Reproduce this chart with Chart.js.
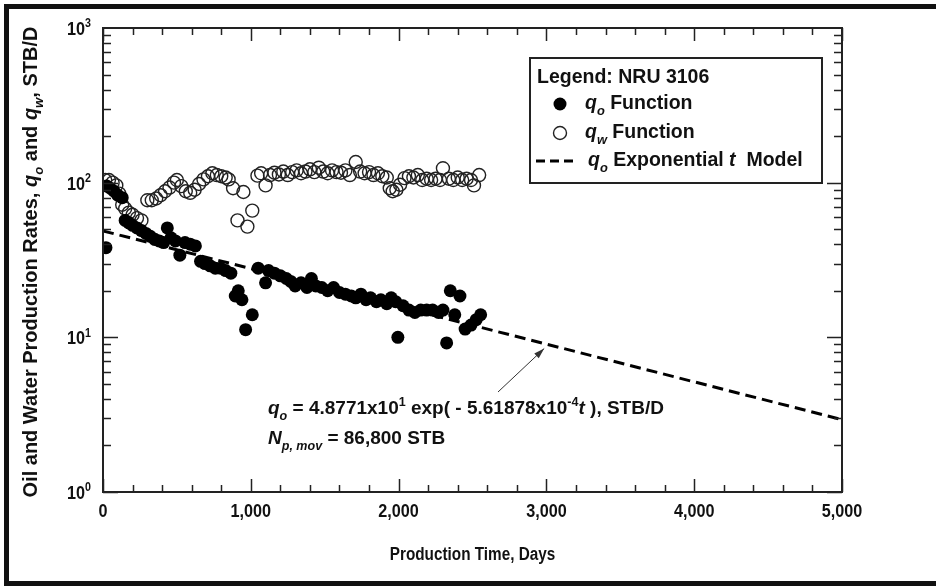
<!DOCTYPE html>
<html>
<head>
<meta charset="utf-8">
<title>NRU 3106 production rates</title>
<style>
  html, body { margin: 0; padding: 0; background: #fff; }
  #wrap { width: 936px; height: 587px; position: relative; }
</style>
<script src="https://cdn.jsdelivr.net/npm/chart.js@4.4.1/dist/chart.umd.min.js"></script>
</head>
<body>
<div id="wrap"><canvas id="rateChart"></canvas></div>
<script>
// Oil rate (qo), STB/D
const qoDays = [20, 25, 50, 75, 100, 130, 150, 175, 200, 230, 260, 290, 320, 350, 380, 410, 435, 460, 490, 520,
  555, 590, 625, 660, 690, 725, 760, 795, 830, 865, 895, 915, 940, 965, 1010, 1050, 1100, 1120, 1160, 1200,
  1240, 1270, 1300, 1340, 1380, 1410, 1440, 1480, 1520, 1560, 1600, 1640, 1680, 1710, 1745, 1780, 1810, 1850,
  1880, 1920, 1950, 1980, 1995, 2030, 2070, 2110, 2150, 2190, 2230, 2270, 2300, 2325, 2350, 2380, 2415, 2450,
  2490, 2525, 2555];
const qoRates = [38, 95, 92, 88, 83, 80, 57, 55, 53, 51, 49, 47, 45, 43, 42, 41, 51, 44, 42, 34,
  41, 40, 39, 31, 30, 29, 28, 28, 27, 26, 18.5, 20, 17.5, 11.2, 14, 28, 22.5, 27, 26, 25,
  24, 23, 21.5, 22.5, 21, 24, 21.5, 21, 20, 21, 19.5, 19, 18.5, 18, 19, 17.5, 18, 17,
  17.5, 16.5, 18, 17, 10, 16, 15, 14.5, 15, 15, 15, 14.5, 15, 9.2, 20, 14, 18.5, 11.3,
  12, 13, 14];

// Water rate (qw), STB/D
const qwDays = [15, 40, 65, 90, 110, 130, 150, 175, 200, 230, 260, 300, 330, 360, 390, 420, 450, 480, 500, 530,
  560, 590, 620, 650, 680, 710, 740, 770, 800, 830, 850, 880, 910, 950, 977, 1010, 1045, 1070, 1100, 1130,
  1160, 1190, 1220, 1250, 1280, 1310, 1340, 1370, 1400, 1430, 1460, 1490, 1520, 1550, 1580, 1610, 1640, 1670,
  1710, 1740, 1770, 1800, 1830, 1860, 1890, 1920, 1940, 1960, 1985, 2010, 2040, 2070, 2100, 2130, 2160, 2190,
  2220, 2250, 2280, 2300, 2340, 2370, 2400, 2430, 2460, 2490, 2510, 2545];
const qwRates = [104, 104, 100, 96, 85, 72, 68, 64, 62, 59, 57, 77, 77, 79, 83, 88, 93, 100, 104, 95,
  88, 86, 90, 98, 105, 110, 115, 112, 110, 108, 105, 92, 57, 87, 52, 66, 111, 115, 96, 112,
  116, 113, 118, 112, 117, 120, 115, 118, 122, 117, 125, 118, 115, 120, 117, 116, 120, 112,
  136, 118, 115, 117, 112, 115, 110, 108, 92, 88, 90, 97, 107, 110, 108, 112, 104, 106,
  104, 106, 104, 124, 106, 104, 108, 104, 106, 104, 96, 112];

// Exponential decline model qo = a * exp(-b t)
const modelA = 4.8771e1;
const modelB = 5.61878e-4;
const modelDays = [0, 2500, 5000];

const xTicks = [0, 1000, 2000, 3000, 4000, 5000];
const xTickLabels = ["0", "1,000", "2,000", "3,000", "4,000", "5,000"];
const yDecades = [0, 1, 2, 3];

const FAMILY = '"Liberation Sans", Arial, Helvetica, sans-serif';
const INK = "#111";

function toPoints(xs, ys) {
  return xs.map((x, i) => ({ x: x, y: ys[i] }));
}

// Bold text with italic / sub / superscript pieces
function drawRich(ctx, parts, x, y, size, align) {
  const fontFor = (k) => {
    const small = k.includes("sub") || k.includes("sup");
    const s = small ? size * 0.66 : size;
    return (k.includes("i") ? "italic " : "") + "bold " + s + "px " + FAMILY;
  };
  let w = 0;
  parts.forEach(([t, k]) => { ctx.font = fontFor(k); w += ctx.measureText(t).width; });
  let cx = align === "center" ? x - w / 2 : align === "right" ? x - w : x;
  ctx.textAlign = "left";
  parts.forEach(([t, k]) => {
    ctx.font = fontFor(k);
    const dy = k.includes("sub") ? size * 0.3 : k.includes("sup") ? -size * 0.42 : 0;
    ctx.fillText(t, cx, y + dy);
    cx += ctx.measureText(t).width;
  });
  return w;
}

function drawSqueezed(ctx, parts, x, y, size, align, sx) {
  ctx.save();
  ctx.translate(x, y);
  ctx.scale(sx, 1);
  drawRich(ctx, parts, 0, 0, size, align);
  ctx.restore();
}

const frame = {
  id: "frame",
  beforeDraw(chart) {
    const ctx = chart.ctx;
    ctx.save();
    ctx.fillStyle = "#fff";
    ctx.fillRect(0, 0, chart.width, chart.height);
    ctx.restore();
  },
  afterDraw(chart) {
    const ctx = chart.ctx;
    const a = chart.chartArea;
    const xs = chart.scales.x;
    const ys = chart.scales.y;
    ctx.save();
    ctx.fillStyle = INK;
    ctx.strokeStyle = INK;
    ctx.textBaseline = "alphabetic";

    // outer frame
    ctx.lineWidth = 5;
    ctx.strokeRect(6.5, 6.5, 945, 577);

    // plot box
    ctx.lineWidth = 2;
    ctx.strokeStyle = "#222";
    ctx.strokeRect(a.left, a.top, a.right - a.left, a.bottom - a.top);

    // x ticks, inside, top and bottom
    ctx.lineWidth = 1.5;
    for (let t = 0; t <= 5000; t += 200) {
      const px = Math.round(xs.getPixelForValue(t)) + 0.5;
      const len = t % 1000 === 0 ? 13 : 7;
      ctx.beginPath();
      ctx.moveTo(px, a.bottom); ctx.lineTo(px, a.bottom - len);
      ctx.moveTo(px, a.top); ctx.lineTo(px, a.top + len);
      ctx.stroke();
    }
    // y ticks, log decades
    for (let d = 0; d < 3; d++) {
      for (let m = 1; m <= 9; m++) {
        const py = Math.round(ys.getPixelForValue(m * Math.pow(10, d))) + 0.5;
        const len = m === 1 ? 15 : 8;
        ctx.beginPath();
        ctx.moveTo(a.left, py); ctx.lineTo(a.left + len, py);
        ctx.moveTo(a.right, py); ctx.lineTo(a.right - len, py);
        ctx.stroke();
      }
    }

    // x tick labels
    xTicks.forEach((t, i) => {
      drawSqueezed(ctx, [[xTickLabels[i], ""]], xs.getPixelForValue(t), a.bottom + 25, 18, "center", 0.9);
    });
    // y tick labels 10^n
    yDecades.forEach((d) => {
      const py = ys.getPixelForValue(Math.pow(10, d));
      drawSqueezed(ctx, [["10", ""], [String(d), "sup"]], a.left - 12, py + 7, 18, "right", 0.9);
    });

    // axis titles
    drawSqueezed(ctx, [["Production Time, Days", ""]], (a.left + a.right) / 2, a.bottom + 68, 18, "center", 0.85);
    ctx.save();
    ctx.translate(37, 262);
    ctx.rotate(-Math.PI / 2);
    drawRich(ctx, [["Oil and Water Production Rates, ", ""], ["q", "i"], ["o", "isub"], [" and ", ""],
      ["q", "i"], ["w", "isub"], [", STB/D", ""]], 0, 0, 20, "center");
    ctx.restore();

    // legend box
    const lx = 530, ly = 58, lw = 292, lh = 125;
    ctx.lineWidth = 2;
    ctx.strokeStyle = "#222";
    ctx.fillStyle = "#fff";
    ctx.fillRect(lx, ly, lw, lh);
    ctx.strokeRect(lx, ly, lw, lh);
    ctx.fillStyle = INK;
    drawRich(ctx, [["Legend: NRU 3106", ""]], lx + 7, ly + 25, 19.5, "left");
    const qo = chart.data.datasets[0];
    const qw = chart.data.datasets[1];
    ctx.beginPath();
    ctx.arc(lx + 30, ly + 46, qo.pointRadius, 0, Math.PI * 2);
    ctx.fillStyle = qo.pointBackgroundColor;
    ctx.fill();
    ctx.fillStyle = INK;
    drawRich(ctx, [["q", "i"], ["o", "isub"], [" Function", ""]], lx + 55, ly + 51, 19.5, "left");
    ctx.beginPath();
    ctx.arc(lx + 30, ly + 75, qw.pointRadius, 0, Math.PI * 2);
    ctx.lineWidth = qw.pointBorderWidth;
    ctx.strokeStyle = qw.pointBorderColor;
    ctx.stroke();
    drawRich(ctx, [["q", "i"], ["w", "isub"], [" Function", ""]], lx + 55, ly + 80, 19.5, "left");
    const md = chart.data.datasets[2];
    ctx.beginPath();
    ctx.lineWidth = md.borderWidth;
    ctx.strokeStyle = md.borderColor;
    ctx.setLineDash([9, 5]);
    ctx.moveTo(lx + 6, ly + 103); ctx.lineTo(lx + 44, ly + 103);
    ctx.stroke();
    ctx.setLineDash([]);
    drawRich(ctx, [["q", "i"], ["o", "isub"], [" Exponential ", ""], ["t", "i"], ["  Model", ""]],
      lx + 58, ly + 108, 19.5, "left");

    // model annotation and arrow to the line
    drawRich(ctx, [["q", "i"], ["o", "isub"], [" = 4.8771x10", ""], ["1", "sup"], [" exp( - 5.61878x10", ""],
      ["-4", "sup"], ["t", "i"], [" ), STB/D", ""]], 268, 414, 19, "left");
    drawRich(ctx, [["N", "i"], ["p, mov", "isub"], [" = 86,800 STB", ""]], 268, 444, 19, "left");

    const tArrow = 2985;
    const hx = xs.getPixelForValue(tArrow);
    const hy = ys.getPixelForValue(modelA * Math.exp(-modelB * tArrow)) + 5;
    const tx = 498, ty = 392;
    const ang = Math.atan2(hy - ty, hx - tx);
    ctx.strokeStyle = "#333";
    ctx.fillStyle = "#333";
    ctx.lineWidth = 1;
    ctx.beginPath();
    ctx.moveTo(tx, ty); ctx.lineTo(hx, hy);
    ctx.stroke();
    ctx.beginPath();
    ctx.moveTo(hx, hy);
    ctx.lineTo(hx - 11 * Math.cos(ang - 0.3), hy - 11 * Math.sin(ang - 0.3));
    ctx.lineTo(hx - 11 * Math.cos(ang + 0.3), hy - 11 * Math.sin(ang + 0.3));
    ctx.closePath();
    ctx.fill();

    ctx.restore();
  },
};

new Chart(document.getElementById("rateChart"), {
  type: "scatter",
  data: {
    datasets: [
      {
        label: "qo Function",
        data: toPoints(qoDays, qoRates),
        pointRadius: 6.5,
        pointBackgroundColor: "#000",
        pointBorderColor: "#000",
        pointBorderWidth: 0,
      },
      {
        label: "qw Function",
        data: toPoints(qwDays, qwRates),
        pointRadius: 6.5,
        pointBackgroundColor: "rgba(0,0,0,0)",
        pointBorderColor: "#222",
        pointBorderWidth: 1.4,
      },
      {
        type: "line",
        label: "qo Exponential t Model",
        data: modelDays.map((t) => ({ x: t, y: modelA * Math.exp(-modelB * t) })),
        borderColor: "#000",
        borderWidth: 3,
        borderDash: [11, 6],
        pointRadius: 0,
        fill: false,
      },
    ],
  },
  options: {
    responsive: true,
    maintainAspectRatio: false,
    animation: false,
    devicePixelRatio: 1,
    layout: { padding: { left: 103, top: 28, right: 94, bottom: 95 } },
    plugins: { legend: { display: false }, tooltip: { enabled: false } },
    scales: {
      x: { type: "linear", min: 0, max: 5000, display: false },
      y: { type: "logarithmic", min: 1, max: 1000, display: false },
    },
  },
  plugins: [frame],
});
</script>
</body>
</html>
